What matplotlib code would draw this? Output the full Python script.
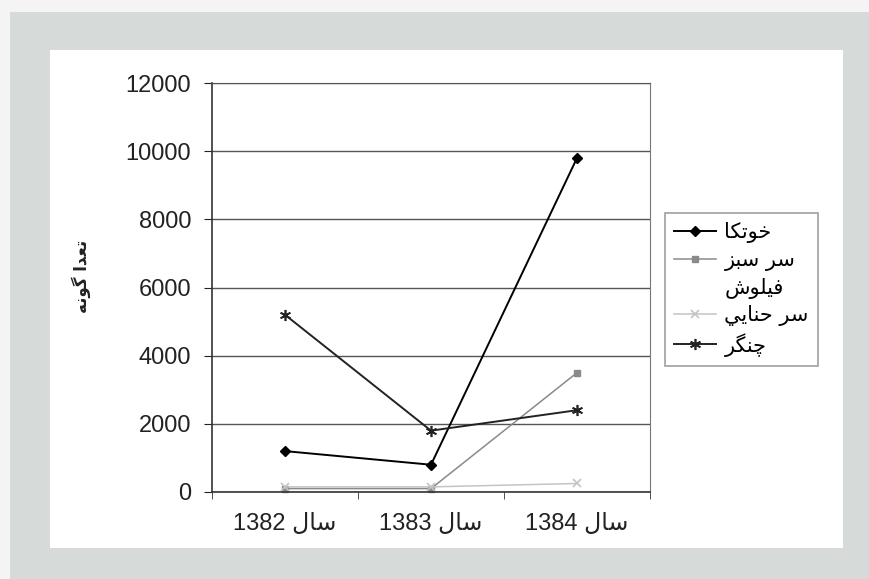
import matplotlib
matplotlib.use("Agg")
from matplotlib import pyplot as plt
from matplotlib.patches import Rectangle

# data
years = ["سال 1382", "سال 1383", "سال 1384"]
series_names = ["خوتکا", "سر سبز", "فیلوش", "سر حنايي", "چنگر"]
khotka = [1200, 800, 9800]
sar_sabz = [100, 100, 3500]
filush = [0, 0, 0]
sar_hanaei = [150, 150, 250]
changar = [5200, 1800, 2400]
y_ticks = [0, 2000, 4000, 6000, 8000, 10000, 12000]
y_title = "تعدا گونه"

# matplotlib does no arabic shaping, so pick presentation forms by hand
FORMS = {
    'ا': (0xFE8D, 0xFE8E, None, None),
    'ب': (0xFE8F, 0xFE90, 0xFE91, 0xFE92),
    'ت': (0xFE95, 0xFE96, 0xFE97, 0xFE98),
    'ح': (0xFEA1, 0xFEA2, 0xFEA3, 0xFEA4),
    'خ': (0xFEA5, 0xFEA6, 0xFEA7, 0xFEA8),
    'د': (0xFEA9, 0xFEAA, None, None),
    'ر': (0xFEAD, 0xFEAE, None, None),
    'ز': (0xFEAF, 0xFEB0, None, None),
    'س': (0xFEB1, 0xFEB2, 0xFEB3, 0xFEB4),
    'ش': (0xFEB5, 0xFEB6, 0xFEB7, 0xFEB8),
    'ع': (0xFEC9, 0xFECA, 0xFECB, 0xFECC),
    'ف': (0xFED1, 0xFED2, 0xFED3, 0xFED4),
    'ل': (0xFEDD, 0xFEDE, 0xFEDF, 0xFEE0),
    'ن': (0xFEE5, 0xFEE6, 0xFEE7, 0xFEE8),
    'ه': (0xFEE9, 0xFEEA, 0xFEEB, 0xFEEC),
    'و': (0xFEED, 0xFEEE, None, None),
    'ي': (0xFEF1, 0xFEF2, 0xFEF3, 0xFEF4),
    'ی': (0xFBFC, 0xFBFD, 0xFBFE, 0xFBFF),
    'ک': (0xFB8E, 0xFB8F, 0xFB90, 0xFB91),
    'گ': (0xFB92, 0xFB93, 0xFB94, 0xFB95),
    'چ': (0xFB7A, 0xFB7B, 0xFB7C, 0xFB7D),
}


def shape_word(w):
    out = []
    for i, c in enumerate(w):
        if c not in FORMS:
            out.append(c)
            continue
        prev_j = i > 0 and w[i - 1] in FORMS and FORMS[w[i - 1]][2] is not None
        next_j = i < len(w) - 1 and w[i + 1] in FORMS and FORMS[c][2] is not None
        if prev_j and next_j:
            k = 3
        elif prev_j:
            k = 1
        elif next_j:
            k = 2
        else:
            k = 0
        out.append(chr(FORMS[c][k]))
    return "".join(reversed(out))


def rtl(text):
    tokens = text.split(" ")
    vis = [shape_word(t) if any(ch in FORMS for ch in t) else t for t in reversed(tokens)]
    return " ".join(vis)


plt.rcParams['font.family'] = ['Liberation Sans', 'DejaVu Sans']

W, H = 869, 579
fig = plt.figure(figsize=(W / 100, H / 100), dpi=100, facecolor='#f3f4f3')

# scanned page look: gray frame with white chart area
fig.patches.append(Rectangle((10 / W, 0), 1, 1 - 12 / H, transform=fig.transFigure,
                             facecolor='#d6dad9', edgecolor='none', zorder=-2))
fig.patches.append(Rectangle((50 / W, 1 - 548 / H), (843 - 50) / W, (548 - 50) / H,
                             transform=fig.transFigure, facecolor='white',
                             edgecolor='none', zorder=-1))

ax = fig.add_axes([212 / W, 1 - 492 / H, (650 - 212) / W, (492 - 83) / H])
ax.set_facecolor('white')

x = list(range(len(years)))
styles = [
    (khotka, dict(color='black', lw=1.4, marker='D', ms=5)),
    (sar_sabz, dict(color='#8a8a8a', lw=1.1, marker='s', ms=5)),
    (filush, dict(color='#f4f4f4', linestyle='none', marker=None)),
    (sar_hanaei, dict(color='#c4c4c4', lw=1.1, marker='x', ms=6, mew=1.2)),
    (changar, dict(color='#222222', lw=1.4, marker=(6, 2, 0), ms=8, mew=1.2)),
]
for name, (vals, st) in zip(series_names, styles):
    ax.plot(x, vals, label=rtl(name), clip_on=False, **st)

ax.set_xlim(-0.5, 2.5)
ax.set_ylim(0, 12000)
ax.set_yticks(y_ticks)
ax.set_yticklabels([str(v) for v in y_ticks])
ax.yaxis.grid(True, color='#555555', lw=1)
ax.set_axisbelow(True)

ax.set_xticks(x)
ax.set_xticklabels([rtl(t) for t in years])
ax.set_xticks([-0.5, 0.5, 1.5, 2.5], minor=True)
ax.tick_params(axis='x', which='major', length=0, pad=15, labelsize=17, colors='#222222')
ax.tick_params(axis='x', which='minor', length=5, direction='out', color='#333333')
ax.tick_params(axis='y', length=6, direction='out', pad=9, labelsize=17, colors='#222222')

for s in ['left', 'bottom']:
    ax.spines[s].set_color('#333333')
    ax.spines[s].set_linewidth(1.2)
ax.spines['top'].set_color('#555555')
ax.spines['right'].set_color('#777777')

fig.text(81 / W, 1 - 276 / H, rtl(y_title), rotation=90, ha='center', va='center',
         fontsize=12, fontweight='bold', family='DejaVu Sans', color='#222222')

leg = ax.legend(loc='upper left', bbox_to_anchor=(665 / W, 1 - 213 / H),
                bbox_transform=fig.transFigure, borderaxespad=0, fancybox=False,
                frameon=True, prop={'family': 'DejaVu Sans', 'size': 15},
                handlelength=2.0, handletextpad=0.4, labelspacing=0.32,
                borderpad=0.45)
leg.get_frame().set_edgecolor('#888888')
leg.get_frame().set_linewidth(1.2)

fig.savefig('out.png', dpi=100, facecolor=fig.get_facecolor())
